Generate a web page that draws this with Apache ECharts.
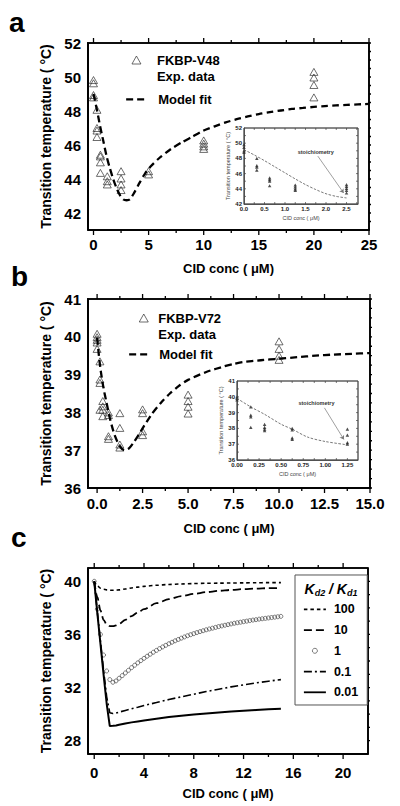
<!DOCTYPE html>
<html><head><meta charset="utf-8">
<script src="https://cdn.jsdelivr.net/npm/echarts@6/dist/echarts.min.js"></script>
<style>html,body{margin:0;padding:0;background:#fff}#wrap{position:relative;width:400px;height:806px}.layer{position:absolute;left:0;top:0;width:400px;height:806px}</style>
</head><body><div id="wrap"></div>
<script>
// ---------- Panel a (FKBP-V48) ----------
const aConc = [0,0,0,0, 0.3125,0.3125,0.3125,0.3125, 0.625,0.625,0.625,0.625, 1.25,1.25,1.25, 2.5,2.5,2.5,2.5, 5,5, 10,10,10,10, 20,20,20,20];
const aTemp = [49.82,49.63,48.94,48.8, 48.07,47.0,46.85,46.47, 45.43,45.33,44.98,44.36, 44.16,43.87,43.68, 44.46,44.03,43.68,43.35, 44.46,44.27, 46.27,46.08,45.92,45.77, 50.3,49.97,49.53,48.8];
const aFitConc = [0,0.3,0.6,0.9,1.2,1.5,1.8,2.1,2.4,2.7,3.0,3.3,3.7,4.2,4.7,5.2,6,7,8,9,10,11,12,13,14,15,16,17,18,19,20,21,22,23,24,25];
const aFitTemp = [49.0,48.1,47.1,46.2,45.3,44.6,43.97,43.45,43.05,42.8,42.75,42.8,43.2,43.8,44.35,44.75,45.25,45.75,46.15,46.5,46.85,47.1,47.33,47.52,47.68,47.82,47.93,48.03,48.12,48.18,48.24,48.29,48.33,48.36,48.39,48.42];
// inset a
const aInConc = [0,0,0,0, 0.3125,0.3125,0.3125,0.3125, 0.625,0.625,0.625,0.625, 1.25,1.25,1.25,1.25, 2.5,2.5,2.5,2.5,2.5];
const aInTemp = [49.8,49.45,49.0,48.8, 48.0,47.05,46.85,46.45, 45.45,45.2,45.0,44.4, 44.5,44.25,44.0,43.8, 44.55,44.3,44.05,43.8,43.45];
const aInFitConc = [0,0.25,0.5,0.75,1.0,1.25,1.5,1.75,2.0,2.25,2.5];
const aInFitTemp = [49.15,48.45,47.7,46.9,46.1,45.3,44.55,43.9,43.35,43.0,42.8];
const aStoich = { text: [1.75, 48.85], from: [1.8, 48.3], to: [2.43, 43.45] };

// ---------- Panel b (FKBP-V72) ----------
const bConc = [0,0,0,0,0, 0.156,0.156,0.156,0.156, 0.3125,0.3125,0.3125,0.3125, 0.625,0.625,0.625,0.625, 1.25,1.25,1.25,1.25, 2.5,2.5,2.5,2.5, 5,5,5,5, 10,10,10,10];
const bTemp = [40.08,39.99,39.92,39.85,39.68, 39.35,38.87,38.78,38.07, 38.3,38.16,38.07,37.9, 38.0,37.93,37.37,37.3, 37.98,37.59,37.15,37.07, 38.08,37.98,37.5,37.4, 38.47,38.3,38.15,37.97, 39.88,39.68,39.5,39.39];
const bFitConc = [0,0.1,0.2,0.35,0.5,0.7,0.95,1.25,1.5,1.75,2.0,2.25,2.5,3.0,3.5,4.0,4.5,5.0,6,7,7.5,8,9,10,11,12,13,14,15];
const bFitTemp = [39.97,39.5,39.1,38.65,38.3,37.85,37.42,37.1,37.0,37.05,37.2,37.38,37.58,37.95,38.25,38.5,38.7,38.86,39.07,39.22,39.28,39.33,39.38,39.42,39.46,39.5,39.53,39.55,39.57];
// inset b
const bInConc = [0,0,0, 0.156,0.156,0.156,0.156, 0.3125,0.3125,0.3125,0.3125, 0.625,0.625,0.625,0.625, 1.25,1.25,1.25,1.25];
const bInTemp = [40.0,39.9,39.8, 39.36,38.84,38.73,38.06, 38.26,38.06,37.95,37.85, 38.0,37.9,37.4,37.3, 37.95,37.57,37.1,37.0];
const bInFitConc = [0,0.156,0.3125,0.5,0.625,0.8,1.0,1.25];
const bInFitTemp = [39.9,39.36,38.89,38.26,37.95,37.45,37.17,36.96];
const bStoich = { text: [0.9, 39.6], from: [0.99, 39.3], to: [1.21, 37.3] };

// ---------- Panel c (model curves, Kd2/Kd1) ----------
const cConc = [0,0.25,0.5,0.75,1,1.25,1.5,1.75,2,2.5,3,3.5,4,5,6,7,8,9,10,11,12,13,14,15];
const c100  = [40,39.65,39.48,39.4,39.35,39.33,39.32,39.33,39.35,39.42,39.5,39.56,39.62,39.7,39.76,39.8,39.83,39.85,39.86,39.87,39.88,39.89,39.9,39.9];
const c10   = [40,38.8,37.8,37.1,36.75,36.63,36.62,36.68,36.8,37.1,37.38,37.65,37.9,38.35,38.65,38.88,39.05,39.18,39.28,39.35,39.41,39.45,39.48,39.5];
const c01   = [40,37.7,35.5,33.3,31.3,30.1,30.05,30.08,30.15,30.28,30.4,30.52,30.65,30.87,31.1,31.3,31.5,31.7,31.88,32.05,32.2,32.35,32.48,32.6];
const c001  = [40,37.6,35.3,33.0,30.8,29.1,29.12,29.15,29.2,29.3,29.38,29.45,29.52,29.65,29.78,29.88,29.97,30.05,30.13,30.2,30.26,30.31,30.36,30.4];
const c1Conc = [0,0.25,0.5,0.75,1,1.25,1.5,1.75,2,2.25,2.5,2.75,3,3.25,3.5,3.75,4,4.25,4.5,4.75,5,5.25,5.5,5.75,6,6.25,6.5,6.75,7,7.25,7.5,7.75,8,8.25,8.5,8.75,9,9.25,9.5,9.75,10,10.25,10.5,10.75,11,11.25,11.5,11.75,12,12.25,12.5,12.75,13,13.25,13.5,13.75,14,14.25,14.5,14.75,15];
const c1    = [40,37.9,36.0,34.45,33.25,32.6,32.4,32.5,32.7,32.9,33.1,33.3,33.5,33.68,33.86,34.03,34.2,34.36,34.51,34.66,34.8,34.93,35.06,35.18,35.3,35.41,35.52,35.62,35.72,35.81,35.9,35.98,36.06,36.14,36.21,36.28,36.35,36.41,36.47,36.53,36.59,36.64,36.69,36.74,36.79,36.84,36.88,36.92,36.96,37.0,37.04,37.08,37.11,37.15,37.18,37.21,37.24,37.27,37.3,37.33,37.36];
const cNames = ['100','10','1','0.1','0.01'];

// ---------- Tick values ----------
const aXMajor = [0,5,10,15,20,25], aXMinor = [2.5,7.5,12.5,17.5,22.5];
const aYMajor = [42,44,46,48,50,52], aYMinor = [41.5,42.5,43,43.5,44.5,45,45.5,46.5,47,47.5,48.5,49,49.5,50.5,51,51.5];
const bXMajor = [0,2.5,5,7.5,10,12.5,15], bXMinor = [1.25,3.75,6.25,8.75,11.25,13.75];
const bYMajor = [36,37,38,39,40,41], bYMinor = [36.25,36.5,36.75,37.25,37.5,37.75,38.25,38.5,38.75,39.25,39.5,39.75,40.25,40.5,40.75];
const cXMajor = [0,4,8,12,16,20], cXMinor = [2,6,10,14,18];
const cYMajor = [28,32,36,40], cYMinor = [29,30,31,33,34,35,37,38,39];
const iaXLabels = [0,0.5,1,1.5,2,2.5], iaXTicks = [0.25,0.5,0.75,1,1.25,1.5,1.75,2,2.25,2.5,2.75];
const iaYLabels = [42,44,46,48,50,52], iaYTicks = [43,44,45,46,47,48,49,50,51];
const ibXLabels = [0,0.25,0.5,0.75,1,1.25], ibXTicks = [0.125,0.25,0.375,0.5,0.625,0.75,0.875,1,1.125,1.25];
const ibYLabels = [36,37,38,39,40,41], ibYTicks = [36.5,37,37.5,38,38.5,39,39.5,40,40.5];

const FONT = 'Liberation Sans, Arial, Helvetica, sans-serif';
const YNAME = 'Transition temperature ( °C)';
const XNAME = 'CID conc ( μM)';

// tick descriptors: [x, y, side(0 bottom,1 top,2 left,3 right), length px]
function tickData(xr, yr, xMaj, xMin, yMaj, yMin, majLen, minLen) {
  const d = [];
  xMaj.forEach(v => { d.push([v, yr[0], 0, majLen]); d.push([v, yr[1], 1, majLen]); });
  xMin.forEach(v => { d.push([v, yr[0], 0, minLen]); d.push([v, yr[1], 1, minLen]); });
  yMaj.forEach(v => { d.push([xr[0], v, 2, majLen]); d.push([xr[1], v, 3, majLen]); });
  yMin.forEach(v => { d.push([xr[0], v, 2, minLen]); d.push([xr[1], v, 3, minLen]); });
  return d;
}
// ticks as a broken line series, expressed in axis units so the library's scale places them
function tickLineSeries(grid, p, ticks, color, width) {
  const ux = (p.xRange[1] - p.xRange[0]) / grid.width, uy = (p.yRange[1] - p.yRange[0]) / grid.height;
  const data = [];
  ticks.forEach(t => {
    const x = t[0], y = t[1], s = t[2], len = t[3];
    const end = s === 0 ? [x, y - len * uy] : s === 1 ? [x, y + len * uy] : s === 2 ? [x - len * ux, y] : [x + len * ux, y];
    data.push([x, y], end, ['-', '-']);
  });
  return { type: 'line', name: 'axis ticks', xAxisIndex: 0, yAxisIndex: 0, data: data, symbol: 'none', clip: false, silent: true, connectNulls: false,
    itemStyle: { color: color }, lineStyle: { color: color, width: width, type: 'solid' } };
}
function frameSeries(p, color, width) {
  const x0 = p.xRange[0], x1 = p.xRange[1], y0 = p.yRange[0], y1 = p.yRange[1];
  return { type: 'line', name: 'axis frame', xAxisIndex: 0, yAxisIndex: 0, data: [[x0, y0], [x1, y0], [x1, y1], [x0, y1], [x0, y0]],
    symbol: 'none', clip: false, silent: true, itemStyle: { color: color }, lineStyle: { color: color, width: width, type: 'solid' } };
}

function axesFor(p, s) {
  const lab = (vals, fmt, margin) => ({ show: true, customValues: vals.slice(), formatter: fmt, margin: margin, color: s.labColor, fontSize: s.labSize, fontWeight: 'bold', fontFamily: FONT });
  const base = (range) => ({ gridIndex: 0, type: 'value', min: range[0], max: range[1], splitLine: { show: false }, axisTick: { show: false },
    axisLine: { show: true, onZero: false, lineStyle: { color: s.lineColor, width: s.lineWidth } } });
  return {
    xAxis: [Object.assign(base(p.xRange), { position: 'bottom', axisLabel: lab(p.xLabels, p.xFmt, p.xMargin),
      name: XNAME, nameLocation: 'middle', nameGap: p.xNameGap, nameTextStyle: { color: s.nameColor, fontSize: s.xNameSize, fontWeight: s.nameWeight } })],
    yAxis: [Object.assign(base(p.yRange), { position: 'left', axisLabel: lab(p.yLabels, p.yFmt, p.yMargin),
      name: YNAME, nameLocation: 'middle', nameGap: p.yNameGap, nameTextStyle: { color: s.nameColor, fontSize: s.yNameSize, fontWeight: s.nameWeight } })]
  };
}
const MAIN = { labColor: '#000', labSize: 15, lineColor: '#000', lineWidth: 1.6, nameColor: '#000', xNameSize: 13, yNameSize: 14, nameWeight: 'bold' };
const INSET = { labColor: '#222', labSize: 6, lineColor: '#444', lineWidth: 0.8, nameColor: '#444', xNameSize: 5.5, yNameSize: 5.5, nameWeight: 'normal' };

const pairs = (xs, ys) => xs.map((x, i) => [x, ys[i]]);
const triStyle = () => ({ color: 'rgba(0,0,0,0)', borderColor: '#333', borderWidth: 0.9 });
const legTxt = (pad) => ({ color: '#000', fontSize: 13, fontWeight: 'bold', fontFamily: FONT, lineHeight: 16, padding: pad });
const noSym = () => ({ color: 'rgba(0,0,0,0)', borderColor: 'rgba(0,0,0,0)', borderWidth: 0 });
const letter = (t, x, y) => ({ type: 'text', x: x, y: y, z: 100, style: { text: t, fill: '#000', fontSize: 28, fontWeight: 'bold', fontFamily: FONT, align: 'left', verticalAlign: 'middle' } });

function mainPanel(grid, p, fit, pts, name, leg) {
  const ax = axesFor(p, MAIN);
  return {
    animation: false, backgroundColor: 'rgba(0,0,0,0)',
    grid: [Object.assign({ show: true, backgroundColor: 'rgba(0,0,0,0)', borderColor: '#000', borderWidth: 1.6 }, grid)],
    xAxis: ax.xAxis, yAxis: ax.yAxis,
    legend: [
      { data: [name], left: leg[0], top: leg[1], orient: 'vertical', padding: 0, itemWidth: 9, itemHeight: 8, selectedMode: false,
        formatter: () => '\n' + name + '\nExp. data', itemStyle: triStyle(), textStyle: legTxt([0, 0, 0, leg[2]]) },
      { data: ['Model fit'], left: leg[3], top: leg[4], padding: 0, itemWidth: 22, itemHeight: 10, selectedMode: false,
        itemStyle: noSym(), lineStyle: { width: 2.3 }, textStyle: legTxt([0, 0, 0, leg[5]]) }
    ],
    series: [
      frameSeries(p, '#000', 1.6),
      tickLineSeries(grid, p, tickData(p.xRange, p.yRange, p.xLabels, p.xMinor, p.yLabels, p.yMinor, 5, 3), '#000', 1.3),
      { type: 'line', name: 'Model fit', xAxisIndex: 0, yAxisIndex: 0, data: fit, symbol: 'none', smooth: 0.25, itemStyle: { color: '#000' }, lineStyle: { color: '#000', width: 2.3, type: [7, 4] } },
      { type: 'scatter', name: name, xAxisIndex: 0, yAxisIndex: 0, data: pts, symbol: 'triangle', symbolSize: [8, 7], itemStyle: triStyle() }
    ],
    graphic: [letter(p.letter[0], p.letter[1], p.letter[2])]
  };
}
function insetPanel(grid, p, fit, pts, st) {
  const ax = axesFor(p, INSET);
  return {
    animation: false, backgroundColor: 'rgba(0,0,0,0)',
    grid: [Object.assign({ show: true, backgroundColor: '#fff', borderColor: '#444', borderWidth: 0.8 }, grid)],
    xAxis: ax.xAxis, yAxis: ax.yAxis,
    series: [
      frameSeries(p, '#444', 0.8),
      tickLineSeries(grid, p, tickData(p.xRange, p.yRange, p.xTicks, [], p.yTicks, [], -2, -2), '#444', 0.7),
      { type: 'line', name: 'inset fit', xAxisIndex: 0, yAxisIndex: 0, data: fit, symbol: 'none', smooth: 0.3, itemStyle: { color: '#555' }, lineStyle: { color: '#555', width: 0.8, type: [2.5, 1.5] } },
      { type: 'scatter', name: 'inset data', xAxisIndex: 0, yAxisIndex: 0, data: pts, symbol: 'triangle', symbolSize: [3.5, 3.2], itemStyle: { color: '#222' },
        markLine: { silent: true, animation: false, symbol: ['none', 'arrow'], symbolSize: 4, lineStyle: { color: '#777', width: 0.7, type: 'solid' }, label: { show: false },
          data: [[{ coord: st.from.slice() }, { coord: st.to.slice() }]] },
        markPoint: { silent: true, animation: false, symbol: 'circle', symbolSize: 0,
          label: { show: true, position: 'inside', formatter: 'stoichiometry', fontSize: 5.5, fontWeight: 'bold', color: '#333', fontFamily: FONT },
          data: [{ coord: st.text.slice() }] } }
    ]
  };
}

const gA = { left: 88, top: 43, width: 281, height: 187 };
const optA = mainPanel(gA,
  { xRange: [-0.5, 25], yRange: [41, 52], xLabels: aXMajor, xMinor: aXMinor, yLabels: aYMajor, yMinor: aYMinor, xFmt: v => String(v), yFmt: v => String(v),
    xMargin: 7, yMargin: 7, xNameGap: 32, yNameGap: 35, letter: ['a', 9, 22] },
  pairs(aFitConc, aFitTemp), pairs(aConc, aTemp), 'FKBP-V48', [131.5, 36, 11, 125, 91.3, 5]);
const gB = { left: 88, top: 299, width: 282, height: 189 };
const optB = mainPanel(gB,
  { xRange: [-0.5, 15], yRange: [36, 41], xLabels: bXMajor, xMinor: bXMinor, yLabels: bYMajor, yMinor: bYMinor, xFmt: v => v.toFixed(1), yFmt: v => String(v),
    xMargin: 8, yMargin: 7, xNameGap: 34, yNameGap: 35, letter: ['b', 11, 276] },
  pairs(bFitConc, bFitTemp), pairs(bConc, bTemp), 'FKBP-V72', [138.8, 294, 5, 128, 346.3, 3]);

const gC = { left: 88, top: 568, width: 280, height: 186 };
const pC = { xRange: [-0.5, 22], yRange: [27, 41], xLabels: cXMajor, xMinor: cXMinor, yLabels: cYMajor, yMinor: cYMinor, xFmt: v => String(v), yFmt: v => String(v),
  xMargin: 11, yMargin: 7, xNameGap: 33, yNameGap: 35 };
const axC = axesFor(pC, MAIN);
const optC = {
  animation: false, backgroundColor: 'rgba(0,0,0,0)',
  grid: [Object.assign({ show: true, backgroundColor: 'rgba(0,0,0,0)', borderColor: '#000', borderWidth: 1.6 }, gC)],
  xAxis: axC.xAxis, yAxis: axC.yAxis,
  legend: [{ data: [
      { name: '100', itemStyle: noSym() }, { name: '10', itemStyle: noSym() },
      { name: '1', itemStyle: { color: 'rgba(0,0,0,0)', borderColor: '#333', borderWidth: 0.8 } },
      { name: '0.1', itemStyle: noSym() }, { name: '0.01', itemStyle: noSym() } ],
    left: 295, top: 575, orient: 'vertical', padding: [27.3, 9, 5.7, 8], itemWidth: 22, itemHeight: 5, itemGap: 6.75,
    selectedMode: false, borderColor: '#555', borderWidth: 1, borderRadius: 0, backgroundColor: '#fff', lineStyle: { width: 1.8 },
    textStyle: { color: '#000', fontSize: 12.5, fontWeight: 'bold', fontFamily: FONT, lineHeight: 14, padding: [0, 0, 0, 3] } }],
  series: [
    frameSeries(pC, '#000', 1.6),
    tickLineSeries(gC, pC, tickData(pC.xRange, pC.yRange, cXMajor, cXMinor, cYMajor, cYMinor, 5, 3), '#000', 1.3),
    { type: 'line', name: cNames[0], xAxisIndex: 0, yAxisIndex: 0, data: pairs(cConc, c100), symbol: 'none', smooth: 0.3, smoothMonotone: 'x', itemStyle: { color: '#000' }, lineStyle: { color: '#000', width: 1.6, type: [3.5, 3] } },
    { type: 'line', name: cNames[1], xAxisIndex: 0, yAxisIndex: 0, data: pairs(cConc, c10), symbol: 'none', smooth: 0.3, smoothMonotone: 'x', itemStyle: { color: '#000' }, lineStyle: { color: '#000', width: 1.8, type: [8, 4] } },
    { type: 'scatter', name: cNames[2], xAxisIndex: 0, yAxisIndex: 0, data: pairs(c1Conc, c1), symbol: 'circle', symbolSize: 4, itemStyle: { color: 'rgba(0,0,0,0)', borderColor: '#333', borderWidth: 0.8 } },
    { type: 'line', name: cNames[3], xAxisIndex: 0, yAxisIndex: 0, data: pairs(cConc, c01), symbol: 'none', itemStyle: { color: '#000' }, lineStyle: { color: '#000', width: 1.6, type: [8, 3, 2, 3] } },
    { type: 'line', name: cNames[4], xAxisIndex: 0, yAxisIndex: 0, data: pairs(cConc, c001), symbol: 'none', itemStyle: { color: '#000' }, lineStyle: { color: '#000', width: 2, type: 'solid' } }
  ],
  graphic: [letter('c', 11, 537.5),
    { type: 'text', x: 331, y: 589, z: 100, style: {
      text: '{i|K}{s|d2}{i| / K}{s|d1}', align: 'center', verticalAlign: 'middle', fill: '#000',
      rich: { i: { fontSize: 14, fontStyle: 'italic', fontWeight: 'bold', fontFamily: FONT, lineHeight: 16, fill: '#000' },
              s: { fontSize: 9, fontStyle: 'italic', fontWeight: 'bold', fontFamily: FONT, lineHeight: 16, verticalAlign: 'bottom', fill: '#000' } } } }]
};

const gAI = { left: 244, top: 128, width: 114, height: 76 };
const optAI = insetPanel(gAI,
  { xRange: [0, 2.78], yRange: [42, 52], xLabels: iaXLabels, xTicks: iaXTicks, yLabels: iaYLabels, yTicks: iaYTicks, xFmt: v => v.toFixed(1), yFmt: v => String(v),
    xMargin: 2, yMargin: 2, xNameGap: 11, yNameGap: 11 },
  pairs(aInFitConc, aInFitTemp), pairs(aInConc, aInTemp), aStoich);
const gBI = { left: 237, top: 381, width: 121, height: 79 };
const optBI = insetPanel(gBI,
  { xRange: [0, 1.37], yRange: [36, 41], xLabels: ibXLabels, xTicks: ibXTicks, yLabels: ibYLabels, yTicks: ibYTicks, xFmt: v => v.toFixed(2), yFmt: v => String(v),
    xMargin: 2, yMargin: 2, xNameGap: 11, yNameGap: 11 },
  pairs(bInFitConc, bInFitTemp), pairs(bInConc, bInTemp), bStoich);

const wrap = document.getElementById('wrap');
[optA, optB, optC, optAI, optBI].forEach((opt, i) => {
  const d = document.createElement('div');
  d.className = 'layer';
  d.style.zIndex = String(i + 1);
  wrap.appendChild(d);
  const ch = echarts.init(d, null, { renderer: 'svg', width: 400, height: 806 });
  ch.setOption(opt);
});
</script>
</body></html>
